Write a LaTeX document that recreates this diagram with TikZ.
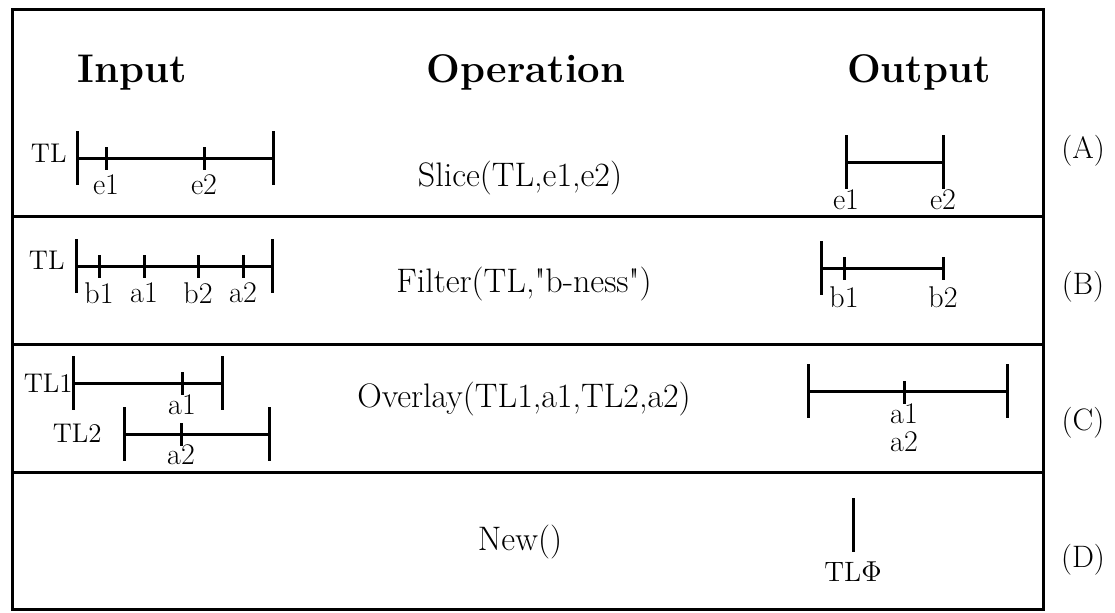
\documentclass[tikz,border=0pt]{standalone}
\usepackage{amsmath}
\usepackage{amssymb}
\usepackage{tikz}

\begin{document}
\begin{tikzpicture}[x=0.5pt,y=-0.5pt]
  \tikzset{bar/.style = {fill,inner sep=0pt,minimum width=1.5pt,minimum height=27pt}}
  \tikzset{tick/.style = {fill,inner sep=0pt,minimum width=1.5pt,minimum height=11.5pt}}
  \tikzset{line/.style = {line width=1.5pt}}
  \tikzset{head/.style = {anchor=base,font=\fontsize{20}{24}\selectfont\bfseries}}
  \tikzset{op/.style = {anchor=base,font=\fontsize{17}{20}\selectfont}}
  \tikzset{tl/.style = {anchor=east,inner sep=1pt,font=\fontsize{13.5}{16}\selectfont}}
  \tikzset{tag/.style = {font=\fontsize{15.5}{18}\selectfont}}
  \tikzset{every label/.style = {font=\fontsize{15}{14}\selectfont}}

  \useasboundingbox (0,0) rectangle (1115,612);

  % frame and rows
  \draw[line] (12,9) rectangle (1043,609);
  \foreach \y in {216,344,472}
    \draw[line] (12,\y) -- (1043,\y);

  % header
  \node[head] (input) at (132,82) {Input};
  \node[head] (operation) at (526,82) {Operation};
  \node[head] (output) at (919,82) {Output};

  % (A) slice
  \node[tl] (tlA) at (69,153) {TL};
  \node[bar] (A0) at (77,158) {};
  \node[bar] (A1) at (273,158) {};
  \foreach \name/\x in {e1/106,e2/204}
    \node[tick] (A\name) [label={[label distance=-1.3pt]below:\name}] at (\x,158) {};
  \draw[line] (A0.center) -- (A1.center);
  \node[op] (slice) at (520,186) {Slice(TL,e1,e2)};
  \node[bar] (As0) [label={[label distance=-3.3pt]below:e1}] at (846,162) {};
  \node[bar] (As1) [label={[label distance=-3.3pt]below:e2}] at (943,162) {};
  \draw[line] (As0.center) -- (As1.center);
  \node[tag] (tagA) at (1083,151) {(A)};

  % (B) filter
  \node[tl] (tlB) at (67,260) {TL};
  \node[bar] (B0) at (76,266) {};
  \node[bar] (B1) at (272,266) {};
  \foreach \name/\x in {b1/99,a1/144,b2/198,a2/243}
    \node[tick] (B\name) [label={[label distance=-1.3pt]below:\name}] at (\x,266) {};
  \draw[line] (B0.center) -- (B1.center);
  \node[op] (filter) at (524,292) {Filter(TL,\textquotedbl b-ness\textquotedbl)};
  \node[bar] (Bf0) at (821,268) {};
  \foreach \name/\x in {b1/844,b2/943}
    \node[tick] (Bf\name) [label=below:\name] at (\x,268) {};
  \draw[line] (Bf0.center) -- (Bfb2.center);
  \node[tag] (tagB) at (1083,287) {(B)};

  % (C) overlay
  \node[tl] (tlC1) at (75,383) {TL1};
  \node[bar] (C0) at (73,383) {};
  \node[bar] (C1) at (222,383) {};
  \node[tick] (Ca1) [label={[label distance=-3.8pt]below:a1}] at (182,383) {};
  \draw[line] (C0.center) -- (C1.center);
  \node[tl] (tlC2) at (104,433) {TL2};
  \node[bar] (C2) at (124,434) {};
  \node[bar] (C3) at (269,434) {};
  \node[tick] (Ca2) [label={[label distance=-4.3pt]below:a2}] at (181,434) {};
  \draw[line] (C2.center) -- (C3.center);
  \node[op] (overlay) at (524,407) {Overlay(TL1,a1,TL2,a2)};
  \node[bar] (Co0) at (808,391) {};
  \node[bar] (Co1) at (1007,391) {};
  \node[tick] (Coa) [label={[align=center,label distance=-3.8pt]below:a1\\a2}] at (904,392) {};
  \draw[line] (Co0.center) -- (Co1.center);
  \node[tag] (tagC) at (1083,423) {(C)};

  % (D) new
  \node[op] (new) at (520,550) {New()};
  \node[bar] (Dn) [label={[font=\fontsize{14}{16}\selectfont,label distance=1pt]below:TL$\Phi$}] at (853,525) {};
  \node[tag] (tagD) at (1083,560) {(D)};
\end{tikzpicture}
\end{document}
